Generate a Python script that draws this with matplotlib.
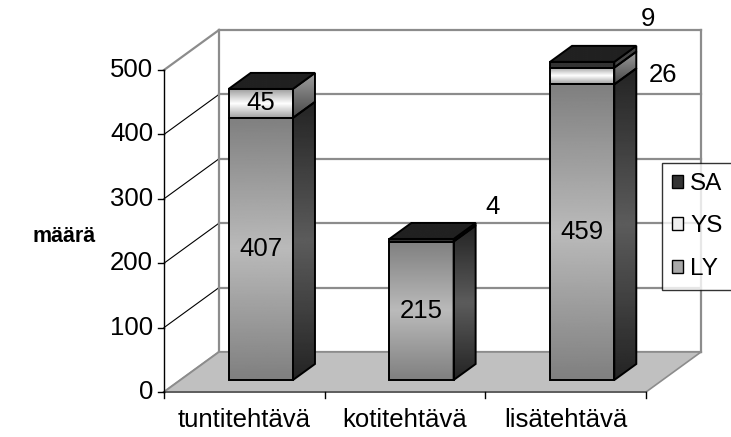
import numpy as np
import matplotlib
matplotlib.use("Agg")
import matplotlib.pyplot as plt
from matplotlib.patches import Polygon, Patch

# ---------------------------------------------
# Data
# ---------------------------------------------
categories = ["tuntitehtävä", "kotitehtävä", "lisätehtävä"]
series_names = ["LY", "YS", "SA"]
ly_values = [407, 215, 459]
ys_values = [45, 0, 26]
sa_values = [0, 4, 9]
y_ticks = [0, 100, 200, 300, 400, 500]

plt.rcParams["font.family"] = ["Liberation Sans", "DejaVu Sans"]
FS = 18.5

W, H = 731, 437
fig = plt.figure(figsize=(W / 100, H / 100), dpi=100)
ax = fig.add_axes([0, 0, 1, 1])
ax.set_axis_off()

# pixel scale of the front plane
PX_CAT = 482 / 3.0      # px per category
PX_VAL = 322 / 500.0    # px per value unit
X0, Y0 = 164, 392       # origin in pixels (from top-left)

ax.set_xlim(-X0 / PX_CAT, 3 + (W - X0 - 482) / PX_CAT)
ax.set_ylim(-(H - Y0) / PX_VAL, 500 + (Y0 - 322) / PX_VAL)


def px_x(p):
    return p / PX_CAT


def px_y(p):
    return p / PX_VAL


# full depth of the 3D box
DX, DY = px_x(55), px_y(40)


def proj(x, v, d):
    return (x + d * DX, v + d * DY)


GRID = "#8c8c8c"

# back wall and gridlines
for v in y_ticks:
    a, b = proj(0, v, 1), proj(3, v, 1)
    ax.plot([a[0], b[0]], [a[1], b[1]], color=GRID, lw=1.6, zorder=1)
    c = proj(0, v, 0)
    col = GRID if v in (0, 500) else "black"
    ax.plot([c[0], a[0]], [c[1], a[1]], color=col, lw=1.6 if v in (0, 500) else 0.8, zorder=1)
for x in (0, 3):
    a, b = proj(x, 0, 1), proj(x, 500, 1)
    ax.plot([a[0], b[0]], [a[1], b[1]], color=GRID, lw=1.6, zorder=1)

# floor
floor = [proj(0, 0, 0), proj(3, 0, 0), proj(3, 0, 1), proj(0, 0, 1)]
ax.add_patch(Polygon(floor, closed=True, facecolor="#c0c0c0", edgecolor=GRID, lw=1.2, zorder=2))
ax.plot([0, 3], [0, 0], color="#555555", lw=1.2, zorder=3)

# value axis and ticks
ax.plot([0, 0], [0, 500], color="black", lw=1.0, zorder=3)
for v in y_ticks:
    ax.plot([0, -px_x(6)], [v, v], color="black", lw=1.0, zorder=3)
    ax.text(-px_x(11), v, str(v), ha="right", va="center", fontsize=FS)
for i in range(4):
    ax.plot([i, i], [0, -px_y(6)], color="black", lw=1.0, zorder=3)
for i, cat in enumerate(categories):
    ax.text(i + 0.5, -px_y(28), cat, ha="center", va="center", fontsize=FS)

ax.text(-px_x(100), px_y(155), "määrä", ha="center", va="center", fontsize=15.5, fontweight="bold")


def shaded(verts, stops, z):
    """Polygon filled with a vertical grey gradient (top -> bottom)."""
    poly = Polygon(verts, closed=True, facecolor="none", edgecolor="black", lw=1.4,
                   joinstyle="miter", zorder=z + 0.5)
    ax.add_patch(poly)
    xs = [p[0] for p in verts]
    ys = [p[1] for p in verts]
    t = np.linspace(0, 1, 200)
    pos, lev = zip(*stops)
    grad = np.interp(t, pos, lev).reshape(-1, 1)
    im = ax.imshow(grad, cmap="gray", vmin=0, vmax=1, aspect="auto", origin="upper",
                   extent=[min(xs), max(xs), min(ys), max(ys)], interpolation="bilinear",
                   zorder=z)
    im.set_clip_path(poly)


FRONT = {"LY": [(0, .50), (.5, .73), (1, .50)],
         "YS": [(0, .62), (.5, 1.0), (1, .62)],
         "SA": [(0, .20), (1, .20)]}
SIDE = {"LY": [(0, .14), (.5, .36), (1, .14)],
        "YS": [(0, .62), (1, .28)],
        "SA": [(0, .27), (1, .27)]}

HALF = 0.2
D0, D1 = 0.3, 0.7

for i in range(3):
    xl, xr = i + 0.5 - HALF, i + 0.5 + HALF
    base = 0
    segs = zip(series_names, [ly_values[i], ys_values[i], sa_values[i]])
    for name, val in segs:
        if val <= 0:
            continue
        top = base + val
        front = [proj(xl, base, D0), proj(xr, base, D0), proj(xr, top, D0), proj(xl, top, D0)]
        side = [proj(xr, base, D0), proj(xr, base, D1), proj(xr, top, D1), proj(xr, top, D0)]
        shaded(front, FRONT[name], 5)
        shaded(side, SIDE[name], 5)
        base = top
    lid = [proj(xl, base, D0), proj(xr, base, D0), proj(xr, base, D1), proj(xl, base, D1)]
    shaded(lid, [(0, .13), (1, .13)], 6)

# value labels inside the bars
for i in range(3):
    cx = proj(i + 0.5, 0, D0)[0]
    base_y = proj(0, 0, D0)[1]
    ax.text(cx, base_y + ly_values[i] / 2, str(ly_values[i]), ha="center", va="center",
            fontsize=FS, zorder=10)
ax.text(proj(0.5, 0, D0)[0], proj(0, ly_values[0] + ys_values[0] / 2, D0)[1],
        str(ys_values[0]), ha="center", va="center", fontsize=FS, zorder=10)

# labels of the thin segments, set beside the bars
outer = [(1, sa_values[1], ly_values[1] + ys_values[1] + sa_values[1] / 2, (39, 33)),
         (2, ys_values[2], ly_values[2] + ys_values[2] / 2, (49, 1)),
         (2, sa_values[2], ly_values[2] + ys_values[2] + sa_values[2] / 2, (34, 46))]
for i, val, mid, off in outer:
    anchor = proj(i + 0.5 + HALF, mid, D0)
    ax.annotate(str(val), xy=anchor, xytext=off, textcoords="offset pixels",
                ha="center", va="center", fontsize=FS, zorder=10)

handles = [Patch(facecolor="#333333", edgecolor="black", label="SA"),
           Patch(facecolor="#eeeeee", edgecolor="black", label="YS"),
           Patch(facecolor="#a8a8a8", edgecolor="black", label="LY")]
leg = ax.legend(handles=handles, loc="upper left", bbox_to_anchor=(662 / W, 1 - 163 / H),
                bbox_transform=fig.transFigure, fontsize=17.5, frameon=True, fancybox=False,
                borderaxespad=0, handlelength=0.45, handleheight=0.45, handletextpad=0.3,
                labelspacing=0.85, borderpad=0.4)
leg.get_frame().set_edgecolor("black")
leg.get_frame().set_linewidth(1.0)
leg.set_zorder(20)

fig.savefig("out.png", dpi=100)
